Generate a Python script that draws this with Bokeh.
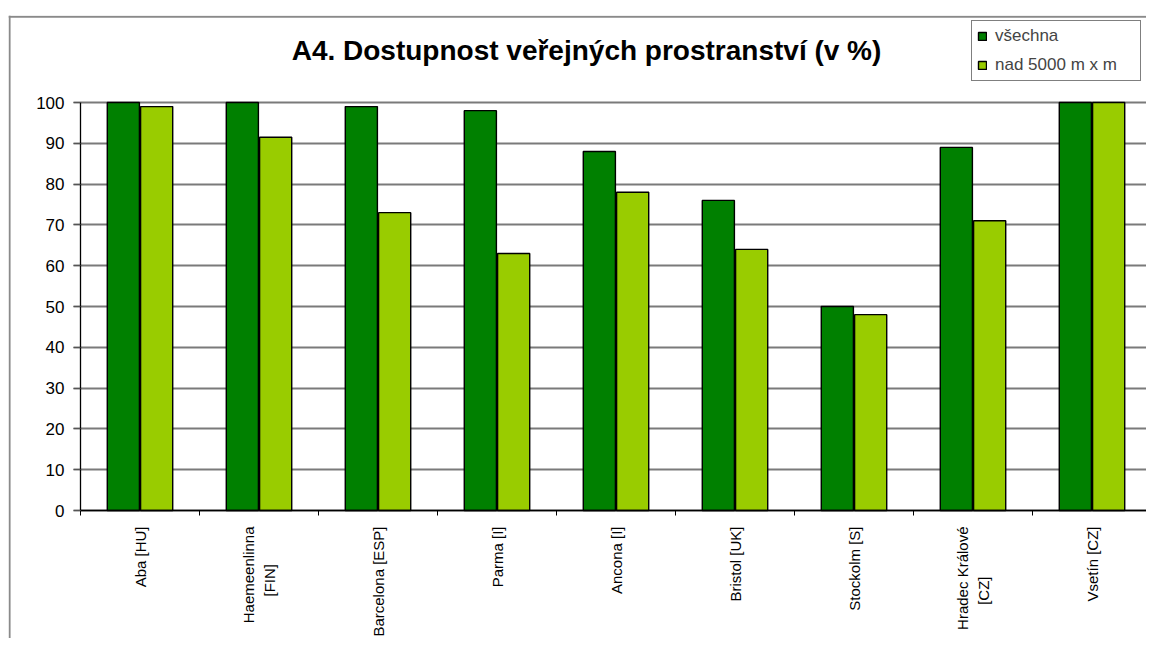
import math
from bokeh.plotting import figure
from bokeh.models import (ColumnDataSource, FixedTicker, Legend, LegendItem, Label, Span)
from bokeh.embed import file_html
from bokeh.resources import INLINE

NB = "\u00a0"
categories = ["Aba [HU]", "Haemeenlinna\n[FIN]" + NB * 9, "Barcelona [ESP]", "Parma [I]", "Ancona [I]",
              "Bristol [UK]", "Stockolm [S]", "Hradec Králové\n[CZ]" + NB * 12, "Vsetín [CZ]"]
vsechna = [100, 100, 99, 98, 88, 76, 50, 89, 100]
nad5000 = [99, 91.5, 73, 63, 78, 64, 48, 71, 100]
series_names = ["všechna", "nad 5000 m x m"]
title_text = "A4. Dostupnost veřejných prostranství (v %)"

DARK = "#008000"
LIGHT = "#99CC00"

n = len(categories)
centers = [i + 0.5 for i in range(n)]
src = ColumnDataSource(dict(
    x1=[c - 0.14 for c in centers], x2=[c + 0.14 for c in centers],
    v1=vsechna, v2=nad5000))

W, H = 1146, 638
PX_X = 119.0   # px per category
PX_Y = 4.08    # px per percent
x_start = -72 / PX_X
x_end = (W - 80) / PX_X
y_start = -(H - 510) / PX_Y
y_end = (510 - 15) / PX_Y

p = figure(width=W, height=H, output_backend="svg", toolbar_location=None,
           x_range=(x_start, x_end), y_range=(y_start, y_end),
           min_border_left=8, min_border_right=0, min_border_top=15, min_border_bottom=0)
p.outline_line_color = None
p.background_fill_color = "white"
p.border_fill_color = "white"

r1 = p.vbar(x="x1", top="v1", width=0.27, source=src, fill_color=DARK,
            line_color="black", line_width=1.4)
r2 = p.vbar(x="x2", top="v2", width=0.27, source=src, fill_color=LIGHT,
            line_color="black", line_width=1.4)

# outer chart border (top and left visible)
p.add_layout(Span(location=y_end - 0.3, dimension="width", line_color="#8a8a8a", line_width=2))
p.add_layout(Span(location=x_start + 0.009, dimension="height", line_color="#8a8a8a", line_width=2))

# y axis
yax = p.yaxis[0]
yax.fixed_location = 0
yax.bounds = (0, 100)
yax.ticker = FixedTicker(ticks=list(range(0, 101, 10)))
yax.axis_line_color = "black"
yax.axis_line_width = 1.3
yax.major_tick_out = 7
yax.major_tick_in = 0
yax.major_tick_line_color = "#555555"
yax.minor_tick_line_color = None
yax.major_label_text_font = "Liberation Sans"
yax.major_label_text_font_size = "17px"
yax.major_label_text_color = "black"
yax.major_label_standoff = 9

# x axis
xax = p.xaxis[0]
xax.fixed_location = 0
xax.bounds = (0, n)
xax.ticker = FixedTicker(ticks=centers, minor_ticks=list(range(0, n + 1)))
xax.major_label_overrides = {c: lab for c, lab in zip(centers, categories)}
xax.major_tick_line_color = None
xax.minor_tick_out = 5
xax.minor_tick_in = 0
xax.minor_tick_line_color = "black"
xax.axis_line_color = "black"
xax.axis_line_width = 1.3
xax.major_label_orientation = math.pi / 2
xax.major_label_text_font = "Liberation Sans"
xax.major_label_text_font_size = "15px"
xax.major_label_text_color = "black"
xax.major_label_standoff = 10

p.xgrid.grid_line_color = None
p.ygrid.grid_line_color = "#7a7a7a"
p.ygrid.grid_line_width = 2
p.ygrid.cross_bounds = (-7 / PX_X, x_end)

# title
p.add_layout(Label(x=(586 - 80) / PX_X, y=(510 - 50) / PX_Y, text=title_text,
                   text_font="Liberation Sans", text_font_style="bold", text_font_size="28px",
                   text_align="center", text_baseline="middle", text_color="black"))

legend = Legend(items=[LegendItem(label=series_names[0], renderers=[r1]),
                       LegendItem(label=series_names[1], renderers=[r2])],
                location="top_right", orientation="vertical",
                glyph_width=10, glyph_height=10, label_text_font="Liberation Sans",
                label_text_font_size="17px", label_height=18, spacing=9,
                label_width=140,
                padding=5, margin=5, label_standoff=8,
                border_line_color="black", border_line_width=1.2,
                background_fill_color="white", background_fill_alpha=1.0)
p.add_layout(legend, "center")

open("out.html", "w").write(file_html(p, INLINE))
